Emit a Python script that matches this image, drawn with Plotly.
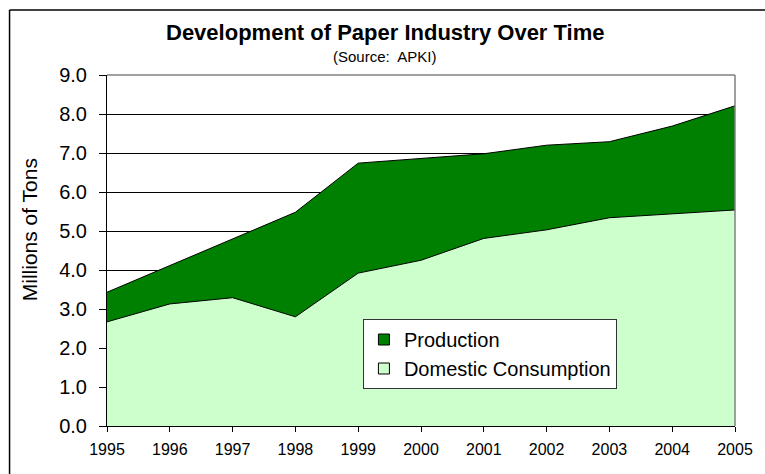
import plotly.graph_objects as go

years = [1995, 1996, 1997, 1998, 1999, 2000, 2001, 2002, 2003, 2004, 2005]
production = [3.43, 4.11, 4.81, 5.48, 6.74, 6.86, 6.98, 7.2, 7.29, 7.69, 8.21]
consumption = [2.67, 3.13, 3.29, 2.8, 3.92, 4.25, 4.81, 5.03, 5.34, 5.44, 5.54]
y_ticks = [0, 1, 2, 3, 4, 5, 6, 7, 8, 9]

FONT = "Liberation Sans, Arial, sans-serif"
DARK = "#008000"
LIGHT = "#CCFFCC"

fig = go.Figure()
fig.add_trace(go.Scatter(
    x=years, y=production, name="Production", mode="lines",
    fill="tozeroy", fillcolor=DARK,
    line=dict(color="#000000", width=1), showlegend=False,
))
fig.add_trace(go.Scatter(
    x=years, y=consumption, name="Domestic Consumption", mode="lines",
    fill="tozeroy", fillcolor=LIGHT,
    line=dict(color="#000000", width=1), showlegend=False,
))
# legend entries with square swatches
for name, col in [("Production", DARK), ("Domestic Consumption", LIGHT)]:
    fig.add_trace(go.Scatter(
        x=[None], y=[None], name=name, mode="markers",
        marker=dict(symbol="square", size=11, color=col,
                    line=dict(color="#000000", width=1)),
        showlegend=True,
    ))

W, H = 765, 474
PL, PR, PT, PB = 107, 745, 75, 426  # plot area in window pixels
L, R, T, B = PL, W - PR, PT, H - PB
pw, ph = PR - PL, PB - PT


def px(x):
    return (x - PL) / pw


def py(y):
    return (PB - y) / ph


fig.update_layout(
    width=W, height=H,
    margin=dict(l=L, r=R, t=T, b=B, pad=0),
    paper_bgcolor="white", plot_bgcolor="white",
    font=dict(family=FONT, color="#000000"),
    showlegend=True,
    legend=dict(
        x=px(367), y=py(319), xanchor="left", yanchor="top",
        bgcolor="white", bordercolor="#333333", borderwidth=1,
        font=dict(size=20, family=FONT),
        traceorder="normal", itemwidth=30, tracegroupgap=0,
    ),
    xaxis=dict(
        range=[1995, 2005], tickmode="array", tickvals=years,
        ticktext=[str(y) for y in years],
        ticks="outside", ticklen=5, tickcolor="#000000",
        showgrid=False, showline=True, linecolor="#000000", linewidth=1,
        tickfont=dict(size=16), zeroline=False, ticklabelstandoff=4,
    ),
    yaxis=dict(
        range=[0, 9], tickmode="array", tickvals=y_ticks,
        ticktext=[f"{v:.1f}" for v in y_ticks],
        ticks="outside", ticklen=7, tickcolor="#000000",
        showgrid=True, gridcolor="#000000", gridwidth=1,
        showline=True, linecolor="#000000", linewidth=1,
        tickfont=dict(size=20), zeroline=False, ticklabelstandoff=8,
    ),
    annotations=[
        dict(text="<b>Development of Paper Industry Over Time</b>",
             xref="paper", yref="paper", x=px(390), y=py(33),
             xanchor="center", yanchor="middle", showarrow=False,
             font=dict(size=22, family=FONT)),
        dict(text="(Source:  APKI)",
             xref="paper", yref="paper", x=px(389), y=py(57),
             xanchor="center", yanchor="middle", showarrow=False,
             font=dict(size=15, family=FONT)),
        dict(text="Millions of Tons",
             xref="paper", yref="paper", x=px(28), y=py(230),
             xanchor="center", yanchor="middle", showarrow=False,
             textangle=-90, font=dict(size=21, family=FONT)),
    ],
    shapes=[
        # outer chart border (left and top visible within the window)
        dict(type="line", xref="paper", yref="paper",
             x0=px(8), x1=px(8), y0=py(520), y1=py(10),
             line=dict(color="#000000", width=1.5), layer="below"),
        dict(type="line", xref="paper", yref="paper",
             x0=px(8), x1=px(800), y0=py(10), y1=py(10),
             line=dict(color="#000000", width=1.5), layer="below"),
        # plot-area border top/right
        dict(type="line", xref="paper", yref="paper",
             x0=0, x1=1, y0=1, y1=1,
             line=dict(color="#808080", width=1.5), layer="above"),
        dict(type="line", xref="paper", yref="paper",
             x0=1, x1=1, y0=0, y1=1,
             line=dict(color="#808080", width=1.5), layer="above"),
    ],
)

fig.write_html(
    "out.html",
    config={"displayModeBar": False},
    post_script="document.body.style.margin='0';document.body.style.overflow='hidden';",
)
